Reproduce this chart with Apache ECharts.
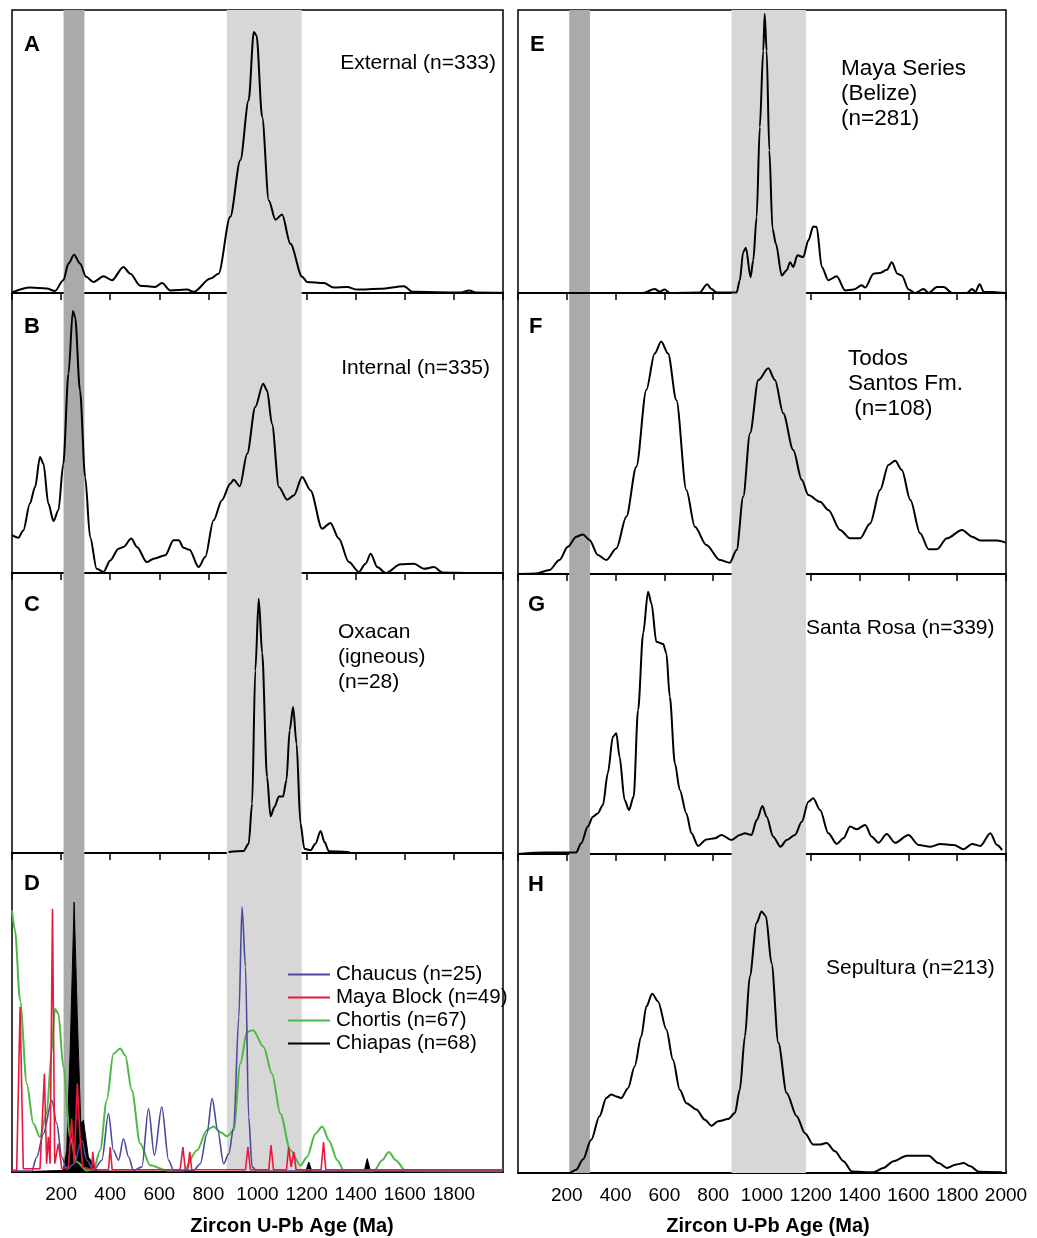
<!DOCTYPE html>
<html>
<head>
<meta charset="utf-8">
<script src="https://cdn.jsdelivr.net/npm/echarts@6/dist/echarts.min.js"></script>
<style>
  html, body { margin: 0; padding: 0; background: #fff; }
  #main { width: 1037px; height: 1238px; }
</style>
</head>
<body>
<div id="main"></div>
<script>
// shaded age bands (Ma)
const bandOld = [210, 295];
const bandGrenville = [875, 1180];

// tick labels on the bottom axes
const leftTicks = [200, 400, 600, 800, 1000, 1200, 1400, 1600, 1800];
const rightTicks = [200, 400, 600, 800, 1000, 1200, 1400, 1600, 1800, 2000];

// probability curves, [age Ma, relative density %]
const externalA = [[0,0.2],[73,1.9],[141,1.6],[175,0.7],[209,4.5],[230,10.4],[253,13.5],[277,10.4],[302,5.7],[332,3.9],[373,5.9],[407,4.5],[454,9.2],[482,6.8],[522,2.6],[583,2.1],[611,3.5],[645,0.9],[713,1.2],[740,0.4],[808,5.1],[841,6.8],[889,26.9],[930,46.9],[964,68.1],[985,92.2],[996,91],[1019,62.2],[1046,32.7],[1073,25.9],[1100,27.7],[1134,17.4],[1182,5.7],[1202,3.9],[1270,3.5],[1311,1.9],[1365,2.1],[1406,1.2],[1501,1.5],[1597,2.4],[1631,0.4],[1828,0.2],[1862,0.9],[1889,0.2],[1998,0.1]];

const internalB = [[0,13.5],[26,12.6],[46,15.2],[73,24.8],[94,30.7],[114,41.4],[128,39],[148,24.8],[169,18.6],[189,22.4],[209,39],[230,71.2],[248,93.6],[257,91.4],[277,65.2],[298,34.3],[318,12.9],[345,1.5],[373,0.4],[400,4.5],[434,8.7],[454,9.3],[486,12.3],[509,9.3],[549,3.9],[577,5.1],[624,6.3],[658,11.7],[679,11.7],[699,9],[723,8.3],[760,2.1],[787,5.7],[821,18.8],[855,26],[889,31.9],[903,33.3],[928,31],[958,42.6],[991,59.3],[1023,67.6],[1039,65.2],[1059,53.3],[1087,30.7],[1121,26.2],[1148,27.7],[1182,34.3],[1216,29.5],[1263,15.8],[1297,17.9],[1331,12.3],[1372,3.9],[1413,0.4],[1440,3.3],[1461,6.9],[1488,2.1],[1522,0],[1583,3.1],[1638,3.3],[1678,1.5],[1719,2.1],[1753,0.2],[1869,0],[1998,0]];

const oxacanC = [[882,0.4],[943,0.7],[964,3.3],[978,17.6],[991,65.2],[1005,90.8],[1019,71.4],[1039,27.1],[1053,13.1],[1069,16.4],[1087,20.2],[1104,20.2],[1118,26],[1131,43.8],[1145,52.1],[1159,39],[1175,10.5],[1191,1.5],[1216,1],[1236,3.3],[1257,7.9],[1273,3.9],[1291,0.6],[1365,0.4],[1379,0]];

const chortisD = [[0,82],[12,75.8],[33,53.8],[60,27.7],[87,15.2],[114,11],[141,18.3],[162,38.1],[175,51.2],[189,49.6],[209,32.9],[237,11],[264,3.1],[305,0.5],[332,0.7],[359,6.8],[386,22.5],[413,37.1],[441,38.7],[461,36.6],[488,25.6],[522,8.9],[563,2.1],[631,0.5],[699,0.5],[754,6.8],[794,13.1],[821,14.3],[849,12.5],[876,11.2],[903,13.1],[930,34],[957,43.9],[982,44.4],[1025,39.2],[1059,30.8],[1093,18.3],[1134,6.8],[1175,2.1],[1202,4.7],[1236,12],[1264,14.3],[1291,9.9],[1325,3.7],[1352,0.5],[1474,0.3],[1508,3.7],[1535,6.3],[1563,3.7],[1604,0.3],[1998,0.2]];

const chaucusD = [[0,0.3],[80,0.3],[101,4.7],[128,12],[162,22.5],[182,15.2],[203,4.7],[223,0.7],[253,2.6],[284,9.9],[305,3.7],[332,0.5],[366,3.7],[393,18.3],[413,6.8],[434,3.7],[454,10.4],[475,4.7],[495,0.5],[529,1.6],[556,19.9],[580,5.2],[610,20.4],[638,3.7],[658,0.5],[740,0.5],[767,2.6],[794,12],[815,23],[838,13.1],[862,2.6],[883,5.7],[903,14.1],[924,48.6],[937,83.1],[951,64.3],[964,17.2],[978,1.6],[998,0.3],[1998,0.3]];

const mayaBlockD = [[0,0.5],[19,0.5],[33,51.7],[46,1],[114,1],[132,30.8],[141,2.6],[148,11],[155,2.6],[165,82.5],[174,2.6],[189,8.9],[203,1],[230,1.6],[243,16.7],[253,2.6],[266,27.7],[277,11],[288,1.6],[325,0.7],[329,6.3],[336,0.7],[393,0.7],[400,7.8],[408,0.7],[685,0.7],[696,7.8],[706,0.7],[716,0.7],[724,6.3],[732,0.7],[951,0.7],[961,7.8],[971,0.7],[1046,0.7],[1055,8.4],[1065,0.7],[1118,0.7],[1127,7.8],[1137,1.6],[1148,6.3],[1157,0.7],[1259,0.7],[1269,9.4],[1278,0.7],[1998,0.7]];

const chiapasD = [[0,0],[209,0.5],[223,6.8],[237,38.1],[253,84.6],[266,48.6],[280,15.2],[291,16.2],[302,9.9],[311,4.7],[332,2.6],[345,0.3],[1195,0],[1209,3.1],[1223,0],[1434,0],[1447,4.2],[1461,0],[1998,0]];

const mayaSeriesE = [[0,0],[512,0],[560,1.4],[581,0.5],[601,1.2],[622,0],[745,0.2],[775,3.1],[793,1.4],[813,0.2],[896,0.2],[909,4.5],[923,14.5],[934,16],[953,5.6],[964,11.5],[978,26.8],[991,58.6],[1005,85.6],[1011,98.6],[1019,85.6],[1030,50.4],[1043,22.7],[1057,17.4],[1081,6.2],[1101,8],[1115,10.9],[1128,9.2],[1145,13.3],[1169,12.7],[1190,18.6],[1210,23.5],[1224,23.3],[1245,9.2],[1272,4.5],[1306,5.9],[1341,0.9],[1375,1.2],[1409,2.7],[1423,1.9],[1457,6.8],[1484,7.1],[1512,8.2],[1532,10.9],[1555,6.8],[1573,6.2],[1601,1.2],[1628,0],[1662,1.4],[1683,0],[1717,2.1],[1745,2.1],[1779,0],[1840,0],[1861,1.4],[1874,0.4],[1892,3.1],[1909,0.4],[1998,0]];

const todosSantosF = [[0,0],[74,0.2],[129,1.4],[170,5],[204,9.7],[239,13.3],[266,14.1],[293,12.1],[327,6.8],[362,5],[403,9.1],[444,20.4],[485,38.2],[526,65.5],[560,78.5],[587,82.7],[615,78.5],[649,61.9],[690,29.9],[725,16.8],[772,10.3],[827,5],[868,4],[896,8.5],[923,27.5],[951,50.1],[985,69],[1026,73.2],[1053,69],[1087,57.2],[1128,44.1],[1163,33.5],[1190,28.1],[1238,25.7],[1272,22.8],[1320,15.7],[1361,12.7],[1402,12.7],[1443,18],[1484,29.9],[1518,38.8],[1546,40.3],[1573,37],[1608,26.3],[1648,14.5],[1683,8.8],[1717,8.8],[1758,12.7],[1820,15.7],[1861,13.3],[1895,11.9],[1963,11.9],[1998,11.2]];

const santaRosaG = [[0,0],[115,0.5],[238,0.5],[259,3.8],[286,9.8],[307,13.3],[327,14.5],[348,17.5],[368,28.8],[389,41.9],[403,43.1],[416,34.8],[437,19.3],[455,15.7],[474,20.5],[492,51.4],[513,78.8],[533,93.7],[547,89.5],[567,75.8],[595,75],[608,71.7],[622,56.2],[643,32.4],[663,22.9],[690,14.5],[711,7.4],[738,2.9],[772,5.2],[807,5.6],[834,6.8],[875,5],[909,6.8],[930,7.4],[957,6.8],[978,12.1],[1002,17.1],[1019,13.3],[1046,6.2],[1076,2.6],[1101,5],[1135,6.8],[1163,11.5],[1190,18.7],[1210,19.9],[1238,15.7],[1272,7.4],[1306,3.6],[1334,5.6],[1361,9.8],[1388,8.8],[1423,10.4],[1450,6.2],[1477,4],[1511,7.1],[1546,4],[1600,6.8],[1642,3.2],[1690,2.6],[1731,3.6],[1786,3.2],[1827,1.7],[1861,3.6],[1895,2.9],[1936,7.4],[1963,3.2],[1984,1.4]];

const sepulturaH = [[0,0],[211,0],[238,1],[266,4.2],[300,10.4],[334,17.8],[362,23.5],[382,24.6],[403,24],[423,23.5],[451,26.6],[478,33.4],[505,42.8],[526,52.2],[550,56.2],[574,53.8],[608,45],[635,35.5],[663,26.1],[690,21.9],[731,19.9],[766,16.7],[793,14.8],[820,16.2],[861,16.9],[889,18.8],[909,26.1],[930,42.8],[950,61.7],[978,78.4],[998,82],[1016,80.5],[1039,65.8],[1067,40.8],[1101,25.1],[1142,17.8],[1176,12.5],[1210,8.9],[1238,8.9],[1265,9.4],[1299,6.8],[1334,3.7],[1368,0.5],[1457,0.2],[1498,1.6],[1539,3.7],[1594,5.4],[1683,5.4],[1724,3.1],[1758,1.6],[1793,2.6],[1827,3.1],[1854,2.1],[1888,0.4],[1984,0.2]];

const colChaucus = '#4a4a9e';
const colMaya = '#e8193c';
const colChortis = '#4cb944';
const colChiapas = '#000000';

const FONT = '"Liberation Sans", Arial, sans-serif';

// panel boxes
const grids = [
  { left: 12, top: 10, width: 491, height: 283 },   // A
  { left: 12, top: 293, width: 491, height: 280 },  // B
  { left: 12, top: 573, width: 491, height: 280 },  // C
  { left: 12, top: 853, width: 491, height: 319 },  // D
  { left: 518, top: 10, width: 488, height: 283 },  // E
  { left: 518, top: 293, width: 488, height: 281 }, // F
  { left: 518, top: 574, width: 488, height: 280 }, // G
  { left: 518, top: 854, width: 488, height: 319 }  // H
];

let xAxes = [], yAxes = [], series = [];

grids.forEach(function (g, i) {
  g.show = true;
  g.borderColor = '#000';
  g.borderWidth = 1.5;
  g.backgroundColor = 'transparent';
  const bottom = (i === 3 || i === 7);
  const ticks = i < 4 ? leftTicks : rightTicks;
  xAxes.push({
    type: 'value', gridIndex: i, min: 0, max: 2000, interval: 200,
    splitLine: { show: false },
    axisLine: { lineStyle: { color: '#000', width: 2 } },
    axisTick: { show: !bottom, length: 7, lineStyle: { color: '#000', width: 1.5 } },
    axisLabel: {
      show: bottom, color: '#000', fontSize: 19, fontFamily: FONT, margin: 13,
      formatter: function (v) { return ticks.indexOf(v) >= 0 ? String(v) : ''; }
    }
  });
  yAxes.push({ type: 'value', gridIndex: i, min: 0, max: 100, show: false });
  // shaded bands
  series.push({
    type: 'line', xAxisIndex: i, yAxisIndex: i, data: [], z: -1, silent: true,
    markArea: {
      silent: true,
      data: [
        [{ xAxis: bandOld[0], itemStyle: { color: '#aaaaaa' } }, { xAxis: bandOld[1] }],
        [{ xAxis: bandGrenville[0], itemStyle: { color: '#d7d7d7' } }, { xAxis: bandGrenville[1] }]
      ]
    }
  });
});

function curve(name, data, gi, color, width) {
  return {
    name: name, type: 'line', xAxisIndex: gi, yAxisIndex: gi, data: data,
    symbol: 'none', smooth: 0.3, smoothMonotone: 'x', z: 3,
    lineStyle: { color: color, width: width }, itemStyle: { color: color }
  };
}

series.push(curve('External', externalA, 0, '#000', 2));
series.push(curve('Internal', internalB, 1, '#000', 2));
series.push(curve('Oxacan', oxacanC, 2, '#000', 2));

let chi = curve('Chiapas (n=68)', chiapasD, 3, colChiapas, 1);
chi.smooth = false;
chi.areaStyle = { color: '#000', opacity: 1 };
series.push(chi);
series.push(curve('Chortis (n=67)', chortisD, 3, colChortis, 2));
series.push(curve('Chaucus (n=25)', chaucusD, 3, colChaucus, 1.6));
let maya = curve('Maya Block (n=49)', mayaBlockD, 3, colMaya, 1.6);
maya.smooth = false;
series.push(maya);

series.push(curve('Maya Series', mayaSeriesE, 4, '#000', 2));
series.push(curve('Todos Santos', todosSantosF, 5, '#000', 2));
series.push(curve('Santa Rosa', santaRosaG, 6, '#000', 2));
series.push(curve('Sepultura', sepulturaH, 7, '#000', 2));

// panel letters and captions
function txt(text, x, y, opts) {
  return {
    type: 'text', x: x, y: y, silent: true, z: 100,
    style: Object.assign({
      text: text, fill: '#000', font: '21px ' + FONT,
      textAlign: 'left', textVerticalAlign: 'middle'
    }, opts || {})
  };
}
const letterFont = 'bold 22px ' + FONT;
const titleFont = 'bold 20px ' + FONT;
const bigFont = '22.5px ' + FONT;

const graphics = [
  txt('A', 24, 45, { font: letterFont }),
  txt('B', 24, 327, { font: letterFont }),
  txt('C', 24, 605, { font: letterFont }),
  txt('D', 24, 884, { font: letterFont }),
  txt('E', 530, 45, { font: letterFont }),
  txt('F', 529, 327, { font: letterFont }),
  txt('G', 528, 605, { font: letterFont }),
  txt('H', 528, 885, { font: letterFont }),
  txt('External (n=333)', 496, 63, { textAlign: 'right' }),
  txt('Internal (n=335)', 490, 368, { textAlign: 'right' }),
  txt('Oxacan\n(igneous)\n(n=28)', 338, 620, { textVerticalAlign: 'top', lineHeight: 25 }),
  txt('Maya Series\n(Belize)\n(n=281)', 841, 56, { textVerticalAlign: 'top', lineHeight: 25, font: bigFont }),
  txt('Todos\nSantos Fm.\n (n=108)', 848, 346, { textVerticalAlign: 'top', lineHeight: 25, font: bigFont }),
  txt('Santa Rosa (n=339)', 806, 628),
  txt('Sepultura (n=213)', 826, 968),
  txt('Zircon U-Pb Age (Ma)', 292, 1226, { font: titleFont, textAlign: 'center' }),
  txt('Zircon U-Pb Age (Ma)', 768, 1226, { font: titleFont, textAlign: 'center' })
];

const option = {
  backgroundColor: '#fff',
  animation: false,
  grid: grids,
  xAxis: xAxes,
  yAxis: yAxes,
  legend: {
    data: ['Chaucus (n=25)', 'Maya Block (n=49)', 'Chortis (n=67)', 'Chiapas (n=68)'],
    orient: 'vertical', left: 283, top: 958,
    icon: 'rect', itemWidth: 42, itemHeight: 2, itemGap: 0,
    textStyle: { color: '#000', fontSize: 20.5, fontFamily: FONT, lineHeight: 23, padding: [0, 0, 0, 1] },
    selectedMode: false
  },
  graphic: graphics,
  series: series
};

const myChart = echarts.init(document.getElementById('main'));
myChart.setOption(option);
</script>
</body>
</html>
